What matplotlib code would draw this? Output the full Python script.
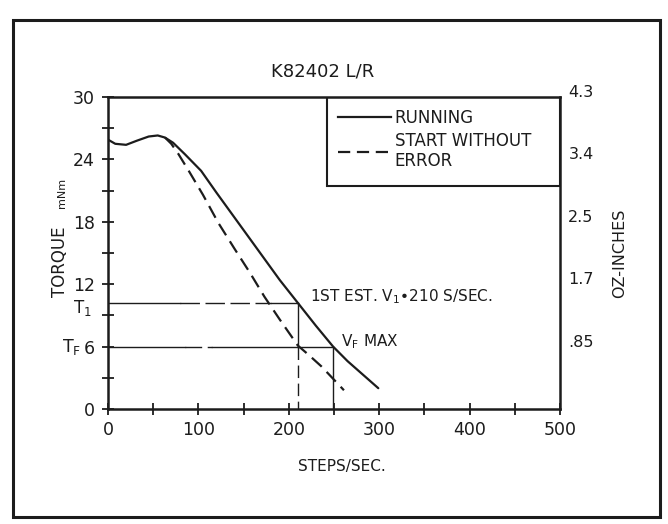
import matplotlib
matplotlib.use('Agg')

import matplotlib.pyplot as plt
from matplotlib.patches import Rectangle
import matplotlib.transforms as mtransforms

# values
running_x = [0, 8, 20, 32, 45, 55, 63, 72, 85, 103, 120, 140, 160, 175, 190, 210, 230, 249, 265, 282, 299]
running_y = [25.9, 25.5, 25.4, 25.8, 26.2, 26.3, 26.1, 25.6, 24.5, 22.9, 20.8, 18.4, 16.0, 14.2, 12.4,
             10.2, 8.0, 6.0, 4.6, 3.3, 2.0]
start_x = [63, 70, 78, 90, 105, 122, 140, 157, 173, 190, 210, 222, 236, 248, 261]
start_y = [26.1, 25.5, 24.5, 22.8, 20.6, 17.9, 15.4, 13.1, 10.8, 8.6, 6.1, 5.2, 4.1, 3.0, 1.8]

t1 = 10.2      # torque at first estimate
tf = 6.0       # final torque
v1 = 210       # first estimate steps/sec
vf = 249       # Vf max

left_ticks = [0, 6, 12, 18, 24, 30]
right_labels = ['.85', '1.7', '2.5', '3.4', '4.3']
right_ticks = [6, 12, 18, 24, 30]
x_ticks = [0, 100, 200, 300, 400, 500]

ink = '#1c1c1c'
plt.rcParams['font.family'] = 'DejaVu Sans'

fig = plt.figure(figsize=(6.68, 5.24), dpi=100)
ax = fig.add_axes([0.1617, 0.2195, 0.6766, 0.5954])

# outer frame of the scan
fig.patches.append(Rectangle((0.02, 0.013), 0.968, 0.949, transform=fig.transFigure,
                             fill=False, edgecolor=ink, linewidth=2.2))

ax.plot(running_x, running_y, color=ink, lw=1.6, solid_capstyle='round')
ax.plot(start_x, start_y, color=ink, lw=1.6, dashes=(6, 3.2))

# reference lines
ax.plot([0, 80], [t1, t1], color=ink, lw=1.0)
ax.plot([80, 180], [t1, t1], color=ink, lw=1.0, dashes=(14, 4))
ax.plot([180, v1], [t1, t1], color=ink, lw=1.0)
ax.plot([0, 85], [tf, tf], color=ink, lw=1.0)
ax.plot([85, 115], [tf, tf], color=ink, lw=1.0, dashes=(12, 4))
ax.plot([115, vf], [tf, tf], color=ink, lw=1.0)
ax.plot([v1, v1], [t1, tf], color=ink, lw=1.0)
ax.plot([v1, v1], [tf, 0], color=ink, lw=1.0, dashes=(9, 4))
ax.plot([vf, vf], [tf, 0], color=ink, lw=1.0)

ax.set_xlim(0, 500)
ax.set_ylim(0, 30)
ax.set_xticks(range(0, 501, 50))
ax.set_xticklabels([str(v) if v in x_ticks else '' for v in range(0, 501, 50)])
ax.set_yticks(range(0, 31, 3))
ax.set_yticklabels([str(v) if v in left_ticks else '' for v in range(0, 31, 3)])
ax.tick_params(direction='inout', length=9, width=1.3, colors=ink, labelsize=12.5, pad=4)
ax.tick_params(axis='y', pad=5)
for s in ax.spines.values():
    s.set_linewidth(1.8)
    s.set_color(ink)

ax2 = ax.twinx()
ax2.set_ylim(0, 30)
ax2.set_yticks(right_ticks)
ax2.set_yticklabels(right_labels)
ax2.tick_params(length=0, labelsize=11.5, pad=6, colors=ink)
for lab in ax2.get_yticklabels():
    lab.set_va('baseline')
ax2.set_ylabel('OZ-INCHES', fontsize=11.5, color=ink, labelpad=13)
for s in ax2.spines.values():
    s.set_visible(False)

# legend box touching top and right spines
ax.add_patch(Rectangle((242, 21.4), 258, 8.6, fill=False, edgecolor=ink, lw=1.5))
ax.plot([], [], color=ink, lw=1.6, label='RUNNING')
ax.plot([], [], color=ink, lw=1.6, dashes=(5.5, 3), label='START WITHOUT\nERROR')
leg = ax.legend(handles=ax.get_lines()[-2:], loc='upper left', bbox_to_anchor=(0.483, 1.0),
                frameon=False, fontsize=12, handlelength=3.2, handletextpad=0.2,
                labelspacing=0.3, borderpad=0.2)
for t in leg.get_texts():
    t.set_color(ink)

ax.text(223, 10.8, '1ST EST. V$_\\mathregular{1}$•210 S/SEC.', fontsize=11, color=ink, va='center')
ax.text(258, 6.5, 'V$_\\mathregular{F}$ MAX', fontsize=11, color=ink, va='center')

# T1 / TF marks next to the left axis
off = mtransforms.offset_copy(ax.get_yaxis_transform(), fig=fig, x=-16, y=-5, units='dots')
ax.text(0, t1, 'T$_\\mathregular{1}$', transform=off, fontsize=12, color=ink, ha='right', va='center')
off2 = mtransforms.offset_copy(ax.get_yaxis_transform(), fig=fig, x=-27, y=0, units='dots')
ax.text(0, tf, 'T$_\\mathregular{F}$', transform=off2, fontsize=12.5, color=ink, ha='right', va='center')

fig.text(0.483, 0.863, 'K82402 L/R', fontsize=13, color=ink, ha='center', va='center')
fig.text(0.512, 0.109, 'STEPS/SEC.', fontsize=11, color=ink, ha='center', va='center')
fig.text(0.09, 0.50, 'TORQUE', fontsize=12, color=ink, rotation=90, ha='center', va='center')
fig.text(0.093, 0.632, 'mNm', fontsize=8, color=ink, rotation=90, ha='center', va='center')

fig.savefig('out.png', dpi=100, facecolor='white')
